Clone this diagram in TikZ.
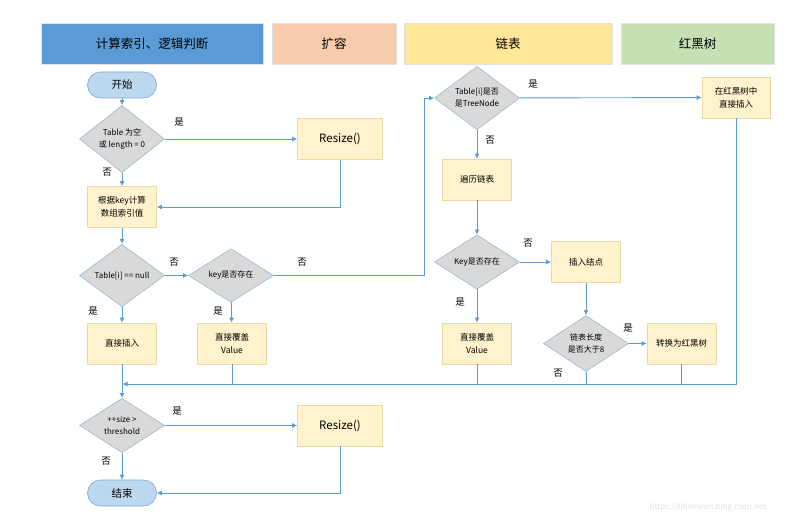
\documentclass[tikz,border=0pt]{standalone}
\usepackage{fontspec}
\setmainfont{Noto Sans CJK SC}
\usetikzlibrary{arrows.meta,shapes.geometric}

\definecolor{flowblue}{HTML}{5B9BD5}
\definecolor{laneblue}{HTML}{5B9BD5}
\definecolor{laneorange}{HTML}{F8CBAD}
\definecolor{laneyellow}{HTML}{FFE699}
\definecolor{lanegreen}{HTML}{C5E0B4}
\definecolor{boxfill}{HTML}{FFF2CC}
\definecolor{boxline}{HTML}{EAD9A6}
\definecolor{decfill}{HTML}{D9D9D9}
\definecolor{decline}{HTML}{9DB7D0}
\definecolor{termfill}{HTML}{BDD7EE}
\definecolor{termline}{HTML}{7AA9D6}

\begin{document}
\begin{tikzpicture}[x=1pt, y=-1pt,
  lane/.style={draw=black!12, line width=0.6pt, minimum height=41pt,
    inner sep=0pt, font=\fontsize{12.5}{14}\selectfont},
  terminal/.style={draw=termline, fill=termfill, line width=0.6pt,
    rounded corners=13pt, minimum width=69pt, minimum height=26pt,
    inner sep=0pt, font=\fontsize{10.5}{12}\selectfont},
  process/.style={draw=boxline, fill=boxfill, line width=0.6pt,
    minimum width=69pt, minimum height=41pt, inner sep=0pt, align=center,
    font=\fontsize{8.5}{13}\selectfont},
  wide/.style={process, minimum width=85pt, font=\fontsize{11.5}{13}\selectfont},
  decision/.style={diamond, draw=decline, fill=decfill, line width=0.6pt,
    minimum width=85pt, minimum height=49pt, inner sep=0pt, align=center,
    font=\fontsize{8}{12}\selectfont},
  flow/.style={-{Latex[length=5pt,width=5pt]}, draw=flowblue, line width=0.9pt},
  link/.style={draw=flowblue, line width=0.9pt},
  tag/.style={font=\fontsize{9.5}{11}\selectfont, inner sep=0pt}
]
\useasboundingbox (0,0) rectangle (799,516);

% swim lane headers
\node[lane, fill=laneblue, minimum width=222pt] (lcalc) at (152,43.5) {计算索引、逻辑判断};
\node[lane, fill=laneorange, minimum width=124pt] (lgrow) at (334,43.5) {扩容};
\node[lane, fill=laneyellow, minimum width=208pt] (llist) at (508,43.5) {链表};
\node[lane, fill=lanegreen, minimum width=153pt] (ltree) at (697.5,43.5) {红黑树};

% main column
\node[terminal] (start) at (122,85) {开始};
\node[decision] (empty) at (122,139) {Table 为空\\或 length = 0};
\node[wide] (resizea) at (340,139) {Resize()};
\node[process] (index) at (122,207) {根据key计算\\数组索引值};
\node[decision] (isnull) at (122,275.5) {Table[i] == null};
\node[decision] (haskey) at (231,275.5) {key是否存在};
\node[process] (put) at (122,343.5) {直接插入};
\node[process] (cover) at (232,343.5) {直接覆盖\\Value};
\node[decision] (thresh) at (122,425.5) {++size >\\threshold};
\node[wide] (resizeb) at (340,425.5) {Resize()};
\node[terminal] (finish) at (122,493) {结束};

% list and tree lanes
\node[decision] (istree) at (477,98) {Table[i]是否\\是TreeNode};
\node[process, minimum width=68pt] (treeput) at (736,97.5) {在红黑树中\\直接插入};
\node[process] (walk) at (477,179.5) {遍历链表};
\node[decision] (listkey) at (477,262) {Key是否存在};
\node[process] (append) at (586,262) {插入结点};
\node[process] (listcover) at (477,343.5) {直接覆盖\\Value};
\node[decision] (toolong) at (586,343.5) {链表长度\\是否大于8};
\node[process] (convert) at (681.5,343.5) {转换为红黑树};

\coordinate (bus) at (424,275.5);
\coordinate (merge) at (122,384);

% connectors
\draw[flow] (start) -- (empty);
\draw[flow] (empty) -- (resizea);
\draw[flow] (empty) -- (index);
\draw[flow] (resizea.south) |- (index.east);
\draw[flow] (index) -- (isnull);
\draw[flow] (isnull) -- (haskey);
\draw[flow] (isnull) -- (put);
\draw[flow] (haskey) -- (cover);
\draw[flow] (haskey.east) -- (bus) |- (istree.west);
\draw[flow] (istree) -- (treeput);
\draw[flow] (istree) -- (walk);
\draw[flow] (walk) -- (listkey);
\draw[flow] (listkey) -- (append);
\draw[flow] (listkey) -- (listcover);
\draw[flow] (append) -- (toolong);
\draw[flow] (toolong) -- (convert);
\draw[flow] (treeput.south) |- ([xshift=0.5pt]merge);
\draw[link] (convert.south) -- (convert.south |- merge);
\draw[link] (toolong.south) -- (toolong.south |- merge);
\draw[link] (listcover.south) -- (listcover.south |- merge);
\draw[link] (cover.south) -- (cover.south |- merge);
\draw[flow] (put) -- (thresh);
\draw[flow] (thresh) -- (resizeb);
\draw[flow] (thresh) -- (finish);
\draw[flow] (resizeb.south) |- (finish.east);

% branch labels
\node[tag] (ya) at (179,122) {是};
\node[tag] (na) at (107,172) {否};
\node[tag] (nb) at (174,262) {否};
\node[tag] (nc) at (302,262) {否};
\node[tag] (yb) at (93,311) {是};
\node[tag] (yc) at (218,311) {是};
\node[tag] (yd) at (533,84) {是};
\node[tag] (nd) at (490,140) {否};
\node[tag] (ne) at (528,243) {否};
\node[tag] (ye) at (460,302) {是};
\node[tag] (yf) at (628,328) {是};
\node[tag] (nf) at (558,373) {否};
\node[tag] (yg) at (177,411) {是};
\node[tag] (ng) at (106,461) {否};

\node[font=\fontsize{8}{10}\selectfont, text=black!12, inner sep=0pt] (mark) at (708,507) {https://thinkwon.blog.csdn.net};
\end{tikzpicture}
\end{document}
